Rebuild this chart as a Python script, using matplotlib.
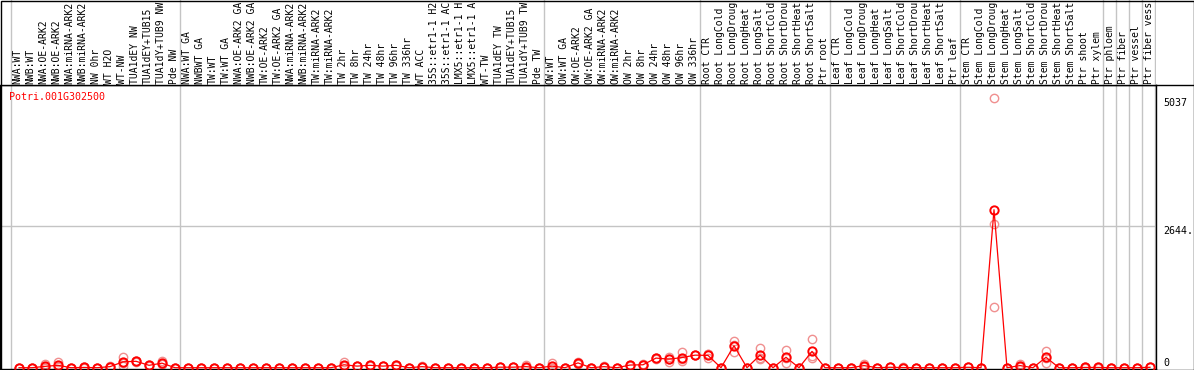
"""Expression profile of Potri.001G302500 across poplar samples (eFP-style line plot)."""

import matplotlib

matplotlib.use("Agg")
import matplotlib.pyplot as plt
from matplotlib.patches import Rectangle
from matplotlib.transforms import blended_transform_factory

GENE = "Potri.001G302500"

# sample labels as shown (the header strip cuts them at 14 characters)
SAMPLES = [
    "NWA:WT", "NWB:WT", "NWA:OE-ARK2", "NWB:OE-ARK2", "NWA:miRNA-ARK2", "NWB:miRNA-ARK2",
    "NW 0hr", "WT H2O", "WT-NW", "TUA1dEY NW", "TUA1dEY+TUB15", "TUA1dY+TUB9 NW", "Pde NW",
    "NWA:WT GA", "NWBWT GA", "TW:WT", "TW:WT GA", "NWA:OE-ARK2 GA", "NWB:OE-ARK2 GA",
    "TW:OE-ARK2", "TW:OE-ARK2 GA", "NWA:miRNA-ARK2", "NWB:miRNA-ARK2", "TW:miRNA-ARK2",
    "TW:miRNA-ARK2", "TW 2hr", "TW 8hr", "TW 24hr", "TW 48hr", "TW 96hr", "TW 336hr",
    "WT ACC", "35S::etr1-1 H2", "35S::etr1-1 AC", "LMX5::etr1-1 H", "LMX5::etr1-1 A",
    "WT-TW", "TUA1dEY TW", "TUA1dEY+TUB15", "TUA1dY+TUB9 TW", "Pde TW",
    "OW:WT", "OW:WT GA", "OW:OE-ARK2", "OW:OE-ARK2 GA", "OW:miRNA-ARK2", "OW:miRNA-ARK2",
    "OW 2hr", "OW 8hr", "OW 24hr", "OW 48hr", "OW 96hr", "OW 336hr",
    "Root CTR", "Root LongCold", "Root LongDroug", "Root LongHeat", "Root LongSalt",
    "Root ShortCold", "Root ShortDrou", "Root ShortHeat", "Root ShortSalt", "Ptr root",
    "Leaf CTR", "Leaf LongCold", "Leaf LongDroug", "Leaf LongHeat", "Leaf LongSalt",
    "Leaf ShortCold", "Leaf ShortDrou", "Leaf ShortHeat", "Leaf ShortSalt", "Ptr leaf",
    "Stem CTR", "Stem LongCold", "Stem LongDroug", "Stem LongHeat", "Stem LongSalt",
    "Stem ShortCold", "Stem ShortDrou", "Stem ShortHeat", "Stem ShortSalt", "Ptr shoot",
    "Ptr xylem", "Ptr phloem", "Ptr fiber", "Ptr vessel", "Ptr fiber vess",
]

# first sample index of each group (a grey separator is drawn before it)
GROUP_STARTS = [0, 13, 41, 53, 63, 73, 84, 85, 86, 87, 88]

MEANS = [
    0, 0, 25, 45, 0, 5, 0, 20, 110, 120, 45, 85, 0,
    0, 0, 0, 0, 0, 0, 0, 0, 0, 0, 0, 0, 55, 30, 45, 30, 45, 0,
    20, 0, 0, 0, 0, 0, 10, 10, 20, 0,
    30, 0, 90, 0, 20, 0, 50, 55, 180, 160, 190, 235,
    230, 0, 410, 0, 235, 0, 195, 0, 305, 0,
    0, 0, 40, 0, 8, 3, 0, 0, 0, 0,
    8, 0, 2955, 0, 40, 0, 195, 0, 0, 5,
    5, 0, 0, 0, 8,
]

REP1 = [
    0, 0, 70, 105, 0, 10, 0, 30, 205, 125, 55, 120, 0,
    0, 0, 0, 0, 0, 0, 0, 0, 0, 0, 0, 0, 100, 35, 50, 35, 50, 0,
    25, 0, 0, 0, 0, 0, 15, 15, 55, 0,
    95, 0, 110, 0, 25, 0, 60, 65, 190, 205, 285, 240,
    265, 0, 505, 0, 360, 0, 330, 0, 530, 0,
    0, 0, 70, 0, 15, 5, 0, 0, 0, 0,
    15, 0, 5037, 0, 70, 0, 310, 0, 0, 10,
    15, 0, 0, 0, 15,
]

REP2 = [
    0, 0, 5, 25, 0, 5, 0, 20, 85, 120, 45, 70, 0,
    0, 0, 0, 0, 0, 0, 0, 0, 0, 0, 0, 0, 40, 30, 45, 30, 45, 0,
    20, 0, 0, 0, 0, 0, 10, 10, 5, 0,
    0, 0, 85, 0, 20, 0, 50, 55, 180, 165, 160, 235,
    250, 0, 425, 0, 190, 0, 175, 0, 210, 0,
    0, 0, 30, 0, 5, 3, 0, 0, 0, 0,
    5, 0, 2690, 0, 30, 0, 190, 0, 0, 5,
    0, 0, 0, 0, 5,
]

REP3 = [
    0, 0, 0, 5, 0, 0, 0, 10, 40, 115, 35, 65, 0,
    0, 0, 0, 0, 0, 0, 0, 0, 0, 0, 0, 0, 25, 25, 40, 25, 40, 0,
    15, 0, 0, 0, 0, 0, 5, 5, 0, 0,
    0, 0, 75, 0, 15, 0, 40, 45, 170, 100, 125, 230,
    175, 0, 300, 0, 155, 0, 80, 0, 175, 0,
    0, 0, 20, 0, 5, 0, 0, 0, 0, 0,
    5, 0, 1140, 0, 20, 0, 85, 0, 0, 0,
    0, 0, 0, 0, 5,
]

AXIS_MARKS = [5037, 2644]

W, H = 1194, 370
MONO = "DejaVu Sans Mono"
GRID = "#c4c4c4"

fig = plt.figure(figsize=(W / 100, H / 100), dpi=100)
fig.patch.set_facecolor("white")

# plot area: x 0..1156 px, y 85..369 px
ax = fig.add_axes([0, 1 - 369 / H, 1156 / W, (369 - 85) / H])
lab = fig.add_axes([0, 1 - 85 / H, 1156 / W, 85 / H], sharex=ax)

idx = list(range(len(SAMPLES)))
ax.set_xlim(-19 / 13, 1137 / 13)
ax.set_ylim(-24, 5286)
lab.set_ylim(85, 0)

for b in GROUP_STARTS:
    for a in (ax, lab):
        a.axvline(b - 0.6, color=GRID, lw=1.0, zorder=0)
ax.axhline(AXIS_MARKS[1], color=GRID, lw=1.0, zorder=0)

for reps in (REP1, REP2, REP3):
    ax.plot(idx, reps, "o", ms=6, mfc="none", mec="#f08f8f", mew=1.0, zorder=2)
ax.plot(idx, MEANS, "-", color="red", lw=0.9, zorder=3)
ax.plot(idx, MEANS, "o", ms=6, mfc="none", mec="red", mew=1.4, zorder=4)

for a in (ax, lab):
    a.set_xticks([])
    a.set_yticks([])
for s in lab.spines.values():
    s.set_visible(False)
for s in ax.spines.values():
    s.set_color("black")
    s.set_linewidth(1.0)

for i, name in enumerate(SAMPLES):
    lab.text(i - 0.1, 83.5, name, rotation=90, ha="center", va="bottom",
             fontsize=7.0, family=MONO, color="black")

ax.text(9 / 1156, 1 - (97 - 85) / 284, GENE, transform=ax.transAxes,
        ha="left", va="center", fontsize=7.2, family=MONO, color="red")

tr = blended_transform_factory(ax.transAxes, ax.transData)
for v in AXIS_MARKS:
    ax.text(1163 / 1156, v, f"{v}" if v == AXIS_MARKS[0] else f"{v}.", transform=tr,
            ha="left", va="top", fontsize=7.2, family=MONO, color="black")
ax.text(1163 / 1156, 0, "0", transform=tr, ha="left", va="bottom",
        fontsize=7.2, family=MONO, color="black")

# outer frame and label/plot separator
fig.add_artist(Rectangle((0.5 / W, 0.5 / H), 1 - 1 / W, 1 - 1 / H,
                         transform=fig.transFigure, fill=False, ec="black", lw=1.0))
fig.add_artist(plt.Line2D([0, 1], [1 - 85 / H, 1 - 85 / H],
                          transform=fig.transFigure, color="black", lw=1.0))

fig.savefig("out.png", dpi=100)
